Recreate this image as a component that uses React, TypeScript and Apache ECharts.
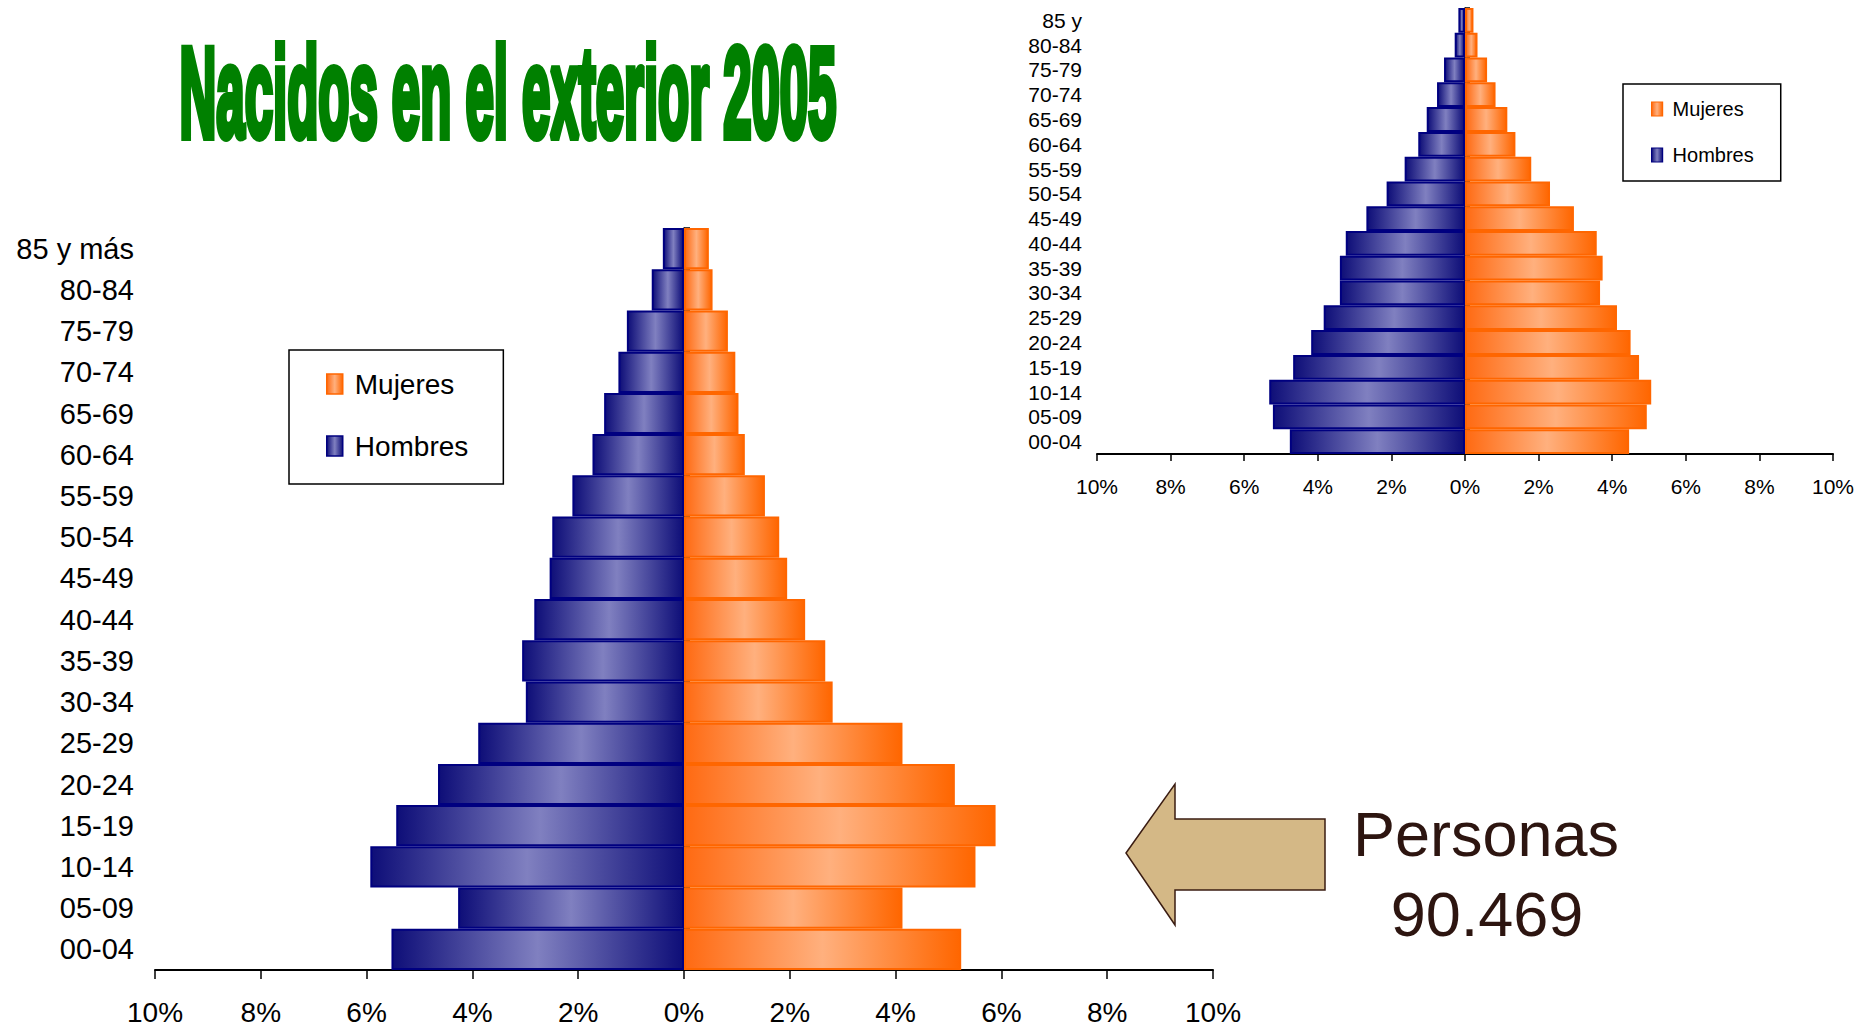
import React, { useEffect, useRef } from "react";
import * as echarts from "echarts";

const FONT = '"Liberation Sans", Arial, sans-serif';

// categories bottom -> top
const categoriesMain = ["00-04", "05-09", "10-14", "15-19", "20-24", "25-29", "30-34", "35-39", "40-44", "45-49", "50-54", "55-59", "60-64", "65-69", "70-74", "75-79", "80-84", "85 y más"];
const categoriesSmall = ["00-04", "05-09", "10-14", "15-19", "20-24", "25-29", "30-34", "35-39", "40-44", "45-49", "50-54", "55-59", "60-64", "65-69", "70-74", "75-79", "80-84", "85 y"];

// percentages (main chart: nacidos en el exterior 2005)
const hombresMain = [5.53, 4.27, 5.93, 5.44, 4.65, 3.89, 2.99, 3.06, 2.83, 2.54, 2.49, 2.11, 1.73, 1.51, 1.24, 1.08, 0.61, 0.40];
const mujeresMain = [5.24, 4.13, 5.51, 5.89, 5.12, 4.13, 2.81, 2.67, 2.29, 1.95, 1.80, 1.53, 1.15, 1.03, 0.97, 0.83, 0.54, 0.47];

// percentages (small comparison chart)
const hombresSmall = [4.76, 5.22, 5.32, 4.67, 4.18, 3.84, 3.40, 3.40, 3.24, 2.68, 2.13, 1.64, 1.27, 1.04, 0.76, 0.57, 0.28, 0.18];
const mujeresSmall = [4.46, 4.94, 5.06, 4.73, 4.50, 4.13, 3.67, 3.74, 3.58, 2.96, 2.31, 1.80, 1.37, 1.15, 0.83, 0.60, 0.34, 0.23];

const legendNames = ["Mujeres", "Hombres"];
const titleText = "Nacidos en el exterior 2005";
const personasLabel = "Personas";
const personasValue = "90.469";

const hombresFill = () =>
  new echarts.graphic.LinearGradient(0, 0, 1, 0, [
    { offset: 0, color: "#0e0e78" },
    { offset: 0.5, color: "#8080c0" },
    { offset: 1, color: "#0e0e78" },
  ]);
const mujeresFill = () =>
  new echarts.graphic.LinearGradient(0, 0, 1, 0, [
    { offset: 0, color: "#ff6a12" },
    { offset: 0.5, color: "#ffb07e" },
    { offset: 1, color: "#ff6600" },
  ]);

export default function App() {
  const ref = useRef<HTMLDivElement>(null);

  useEffect(() => {
    if (!ref.current) return;
    const chart = echarts.init(ref.current, undefined, { renderer: "svg" });

    const pctFmt = (v: number) => Math.abs(v) + "%";

    const makeX = (gridIndex: number, fontSize: number, margin: number, tickLen: number) => ({
      type: "value",
      gridIndex,
      min: -10,
      max: 10,
      interval: 2,
      axisLine: { show: true, onZero: false, lineStyle: { color: "#000", width: 2 } },
      axisTick: { show: true, length: tickLen, lineStyle: { color: "#000", width: 1.5 } },
      axisLabel: { formatter: pctFmt, fontSize, margin, color: "#000", fontFamily: FONT },
      splitLine: { show: false },
    });

    const makeYLabels = (gridIndex: number, data: string[], fontSize: number, margin: number) => ({
      type: "category",
      gridIndex,
      data,
      axisLine: { show: false, onZero: false },
      axisTick: { show: false },
      axisLabel: { fontSize, margin, color: "#000", fontFamily: FONT, interval: 0 },
      splitLine: { show: false },
    });

    const makeYZero = (gridIndex: number, data: string[], tickLen: number) => ({
      type: "category",
      gridIndex,
      data,
      axisLine: { show: true, onZero: true, lineStyle: { color: "#000", width: 1.5 } },
      axisTick: { show: true, length: tickLen, interval: 0, lineStyle: { color: "#000", width: 1.5 } },
      axisLabel: { show: false },
      splitLine: { show: false },
    });

    const barSeries = (name: string, data: number[], xIdx: number, yIdx: number, stack: string, fill: any, border: string) => ({
      name,
      type: "bar",
      xAxisIndex: xIdx,
      yAxisIndex: yIdx,
      stack,
      data,
      barCategoryGap: "0%",
      itemStyle: { color: fill, borderColor: border, borderWidth: 2 },
    });

    const option: any = {
      animation: false,
      backgroundColor: "#ffffff",
      textStyle: { fontFamily: FONT },
      grid: [
        { left: 155, right: 652, top: 228, bottom: 52, containLabel: false },
        { left: 1097, right: 32, top: 8, bottom: 572, containLabel: false },
      ],
      xAxis: [makeX(0, 28, 28, 9), makeX(1, 21, 22, 7)],
      yAxis: [
        makeYLabels(0, categoriesMain, 29, 21),
        makeYZero(0, categoriesMain, 6),
        makeYLabels(1, categoriesSmall, 21, 15),
        makeYZero(1, categoriesSmall, 5),
      ],
      legend: [
        {
          data: legendNames,
          orient: "vertical",
          left: 289,
          top: 350,
          padding: [19, 35, 23, 37],
          itemGap: 32,
          itemWidth: 16,
          itemHeight: 20,
          icon: "rect",
          borderColor: "#000",
          borderWidth: 1.5,
          backgroundColor: "#fff",
          itemStyle: { borderWidth: 1.5 },
          textStyle: { fontSize: 28, color: "#000", fontFamily: FONT, lineHeight: 30, padding: [0, 0, 0, 7] },
          selectedMode: false,
        },
        {
          data: legendNames,
          orient: "vertical",
          left: 1623,
          top: 84,
          padding: [14, 27, 15, 28],
          itemGap: 24,
          itemWidth: 11,
          itemHeight: 14,
          icon: "rect",
          borderColor: "#000",
          borderWidth: 1.5,
          backgroundColor: "#fff",
          itemStyle: { borderWidth: 1.2 },
          textStyle: { fontSize: 20, color: "#000", fontFamily: FONT, lineHeight: 22, padding: [0, 0, 0, 5] },
          selectedMode: false,
        },
      ],
      series: [
        barSeries("Hombres", hombresMain.map((v) => -v), 0, 0, "main", hombresFill(), "#000080"),
        barSeries("Mujeres", mujeresMain, 0, 0, "main", mujeresFill(), "#ff6600"),
        barSeries("Hombres", hombresSmall.map((v) => -v), 1, 2, "small", hombresFill(), "#000080"),
        barSeries("Mujeres", mujeresSmall, 1, 2, "small", mujeresFill(), "#ff6600"),
      ],
      graphic: [
        {
          type: "text",
          x: 508,
          y: 93,
          scaleX: 0.398,
          style: {
            text: titleText,
            fontSize: 128,
            fontWeight: "bold",
            fontFamily: FONT,
            fill: "#008000",
            stroke: "#008000",
            lineWidth: 8,
            align: "center",
            verticalAlign: "middle",
          },
        },
        {
          type: "polygon",
          shape: {
            points: [
              [1126, 853],
              [1175, 784],
              [1175, 819],
              [1325, 819],
              [1325, 890],
              [1175, 890],
              [1175, 925],
            ],
          },
          style: { fill: "#d4b886", stroke: "#3a1c12", lineWidth: 1.5 },
        },
        {
          type: "text",
          x: 1486,
          y: 834,
          style: {
            text: personasLabel,
            fontSize: 63,
            fontFamily: FONT,
            fill: "#2d1510",
            align: "center",
            verticalAlign: "middle",
          },
        },
        {
          type: "text",
          x: 1487,
          y: 914,
          style: {
            text: personasValue,
            fontSize: 63,
            fontFamily: FONT,
            fill: "#2d1510",
            align: "center",
            verticalAlign: "middle",
          },
        },
      ],
    };

    chart.setOption(option);
    return () => chart.dispose();
  }, []);

  return (
    <div
      ref={ref}
      style={{ position: "fixed", left: 0, top: 0, width: 1865, height: 1026, background: "#fff" }}
    />
  );
}
